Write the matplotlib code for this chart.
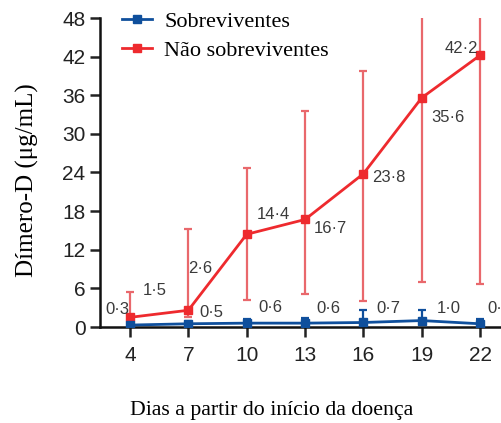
import matplotlib

matplotlib.use("Agg")
import matplotlib.pyplot as plt

# Days since illness onset
days = [4, 7, 10, 13, 16, 19, 22]

# Non-survivors: median and interquartile range ends
nonsurv = [1.5, 2.6, 14.4, 16.7, 23.8, 35.6, 42.2]
nonsurv_low = [0.5, 1.5, 4.2, 5.1, 4.0, 7.0, 6.7]
nonsurv_high = [5.4, 15.3, 24.7, 33.6, 39.7, 50.0, 50.0]
nonsurv_labels = ["1·5", "2·6", "14·4", "16·7", "23·8", "35·6", "42·2"]

# Survivors
surv = [0.3, 0.5, 0.6, 0.6, 0.7, 1.0, 0.5]
surv_low = [0.1, 0.2, 0.3, 0.3, 0.3, 0.5, 0.2]
surv_high = [0.6, 0.9, 1.2, 1.4, 2.6, 2.6, 1.3]
surv_labels = ["0·3", "0·5", "0·6", "0·6", "0·7", "1·0", "0·5"]

y_ticks = [0, 6, 12, 18, 24, 30, 36, 42, 48]

# label offsets in pixels (dx, dy), y up
RED_OFFSETS = [(25, 27), (12, 42), (27, 20), (25, -9), (25, -4), (26, -20), (-19, 7)]
BLUE_OFFSETS = [(-13, 16), (23, 11), (24, 16), (23, 15), (25, 14), (27, 12), (19, 15)]

RED = "#ee2a2e"
RED_ERR = "#e9686c"
BLUE = "#0f4f9c"

fig = plt.figure(figsize=(5.02, 4.23), dpi=100)
ax = fig.add_axes([100 / 502, 96 / 423, 402 / 502, 309 / 423])

ax.errorbar(
    days, nonsurv,
    yerr=[[m - lo for m, lo in zip(nonsurv, nonsurv_low)],
          [hi - m for m, hi in zip(nonsurv, nonsurv_high)]],
    fmt="none", ecolor=RED_ERR, elinewidth=1.6, capsize=3, capthick=1.6, zorder=2,
)
ax.errorbar(
    days, surv,
    yerr=[[m - lo for m, lo in zip(surv, surv_low)],
          [hi - m for m, hi in zip(surv, surv_high)]],
    fmt="none", ecolor=BLUE, elinewidth=1.6, capsize=3, capthick=1.6, zorder=2,
)
ax.plot(days, surv, color=BLUE, lw=2, marker="s", markersize=6, zorder=4,
        label="Sobreviventes")
ax.plot(days, nonsurv, color=RED, lw=2, marker="s", markersize=6, zorder=3,
        label="Não sobreviventes")

for x, y, lab, (dx, dy) in zip(days, nonsurv, nonsurv_labels, RED_OFFSETS):
    ax.annotate(lab, xy=(x, y), xytext=(dx, dy), textcoords="offset pixels",
                ha="center", va="center", fontsize=12, color="#3a3a3a",
                family="Liberation Sans", annotation_clip=False)
for x, y, lab, (dx, dy) in zip(days, surv, surv_labels, BLUE_OFFSETS):
    ax.annotate(lab, xy=(x, y), xytext=(dx, dy), textcoords="offset pixels",
                ha="center", va="center", fontsize=12, color="#3a3a3a",
                family="Liberation Sans", annotation_clip=False)

ax.set_xlim(2.457, 23.13)
ax.set_ylim(0, 48)
ax.set_xticks(days)
ax.set_yticks(y_ticks)
ax.tick_params(axis="both", direction="out", width=1.8, length=7,
               labelsize=15, colors="#222222")
ax.tick_params(axis="x", pad=7)
for lab in ax.get_xticklabels() + ax.get_yticklabels():
    lab.set_family("Liberation Sans")
for side in ["top", "right"]:
    ax.spines[side].set_visible(False)
for side in ["left", "bottom"]:
    ax.spines[side].set_linewidth(1.8)
    ax.spines[side].set_color("#111111")

fig.text(272 / 502, 1 - 410 / 423, "Dias a partir do início da doença",
         ha="center", va="center", fontsize=15.7, family="Liberation Serif")
fig.text(27 / 502, 1 - 180 / 423, "Dímero-D (μg/mL)", rotation=90,
         ha="center", va="center", fontsize=18, family="Liberation Serif")

ax.legend(loc="upper left", bbox_to_anchor=(122 / 502, 1 - 11 / 423),
          bbox_transform=fig.transFigure, frameon=False,
          prop={"family": "Liberation Serif", "size": 16},
          handlelength=1.35, handletextpad=0.55, labelspacing=0.4,
          borderaxespad=0, borderpad=0)

fig.savefig("out.png", dpi=100)
